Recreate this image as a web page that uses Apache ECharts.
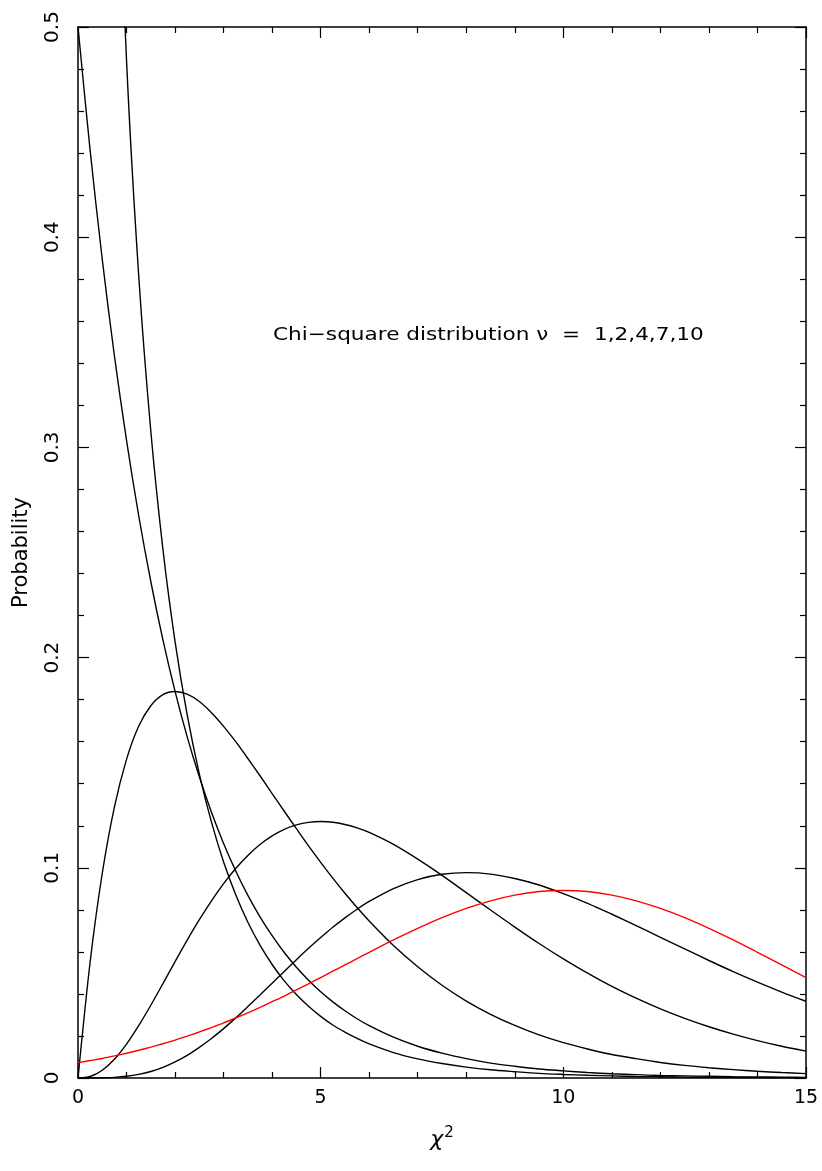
<!DOCTYPE html>
<html>
<head>
<meta charset="utf-8">
<title>Chi-square distribution</title>
<script src="https://cdn.jsdelivr.net/npm/echarts@6/dist/echarts.min.js"></script>
<style>
  html, body { margin: 0; padding: 0; background: #fff; }
  #chart { width: 822px; height: 1171px; }
</style>
</head>
<body>
<div id="chart"></div>
<script>
// x positions the curves were read at
var xs = [0, 0.25, 0.5, 0.75, 1, 1.25, 1.5, 1.75, 2, 2.25, 2.5, 2.75, 3, 3.25, 3.5, 3.75, 4, 4.25, 4.5, 4.75, 5, 5.25, 5.5, 5.75, 6,
  6.5, 7, 7.5, 8, 8.5, 9, 9.5, 10, 10.5, 11, 11.5, 12, 12.5, 13, 13.5, 14, 14.5, 15]

// black curves, nu = 1, 2, 4, 7, 10
var nu1 = [null, 1.4085, 0.8789, 0.6333, 0.4840, 0.3820, 0.3078, 0.2515, 0.2076, 0.1727, 0.1446, 0.1217, 0.1028, 0.0872, 0.0741, 0.0632, 0.0540, 0.0462, 0.0397, 0.0341, 0.0293, 0.0252, 0.0218, 0.0188, 0.0162,
  0.0121, 0.0091, 0.0069, 0.0052, 0.0039, 0.0030, 0.0022, 0.0017, 0.0013, 0.0010, 0.0007, 0.0006, 0.0004, 0.0003, 0.0003, 0.0002, 0.0001, 0.0001]
var nu2 = [0.5, 0.4413, 0.3894, 0.3436, 0.3033, 0.2676, 0.2362, 0.2084, 0.1839, 0.1623, 0.1433, 0.1264, 0.1116, 0.0985, 0.0869, 0.0767, 0.0677, 0.0597, 0.0527, 0.0465, 0.0410, 0.0362, 0.0320, 0.0282, 0.0249,
  0.0194, 0.0151, 0.0118, 0.0092, 0.0071, 0.0056, 0.0043, 0.0034, 0.0026, 0.0020, 0.0016, 0.0012, 0.0010, 0.0008, 0.0006, 0.0005, 0.0004, 0.0003]
var nu4 = [0, 0.0552, 0.0974, 0.1289, 0.1516, 0.1673, 0.1771, 0.1824, 0.1839, 0.1826, 0.1791, 0.1738, 0.1673, 0.1600, 0.1520, 0.1438, 0.1353, 0.1269, 0.1186, 0.1104, 0.1026, 0.0951, 0.0879, 0.0811, 0.0747,
  0.0630, 0.0529, 0.0441, 0.0366, 0.0303, 0.0250, 0.0205, 0.0168, 0.0138, 0.0112, 0.0092, 0.0074, 0.0060, 0.0049, 0.0040, 0.0032, 0.0026, 0.0021]
var nu7 = [0, 0.0007, 0.0037, 0.0089, 0.0161, 0.0249, 0.0346, 0.0449, 0.0554, 0.0656, 0.0753, 0.0843, 0.0925, 0.0997, 0.1059, 0.1111, 0.1152, 0.1183, 0.1204, 0.1216, 0.1220, 0.1217, 0.1206, 0.1190, 0.1168,
  0.1111, 0.1041, 0.0964, 0.0882, 0.0799, 0.0718, 0.0640, 0.0567, 0.0499, 0.0436, 0.0380, 0.0329, 0.0284, 0.0244, 0.0209, 0.0178, 0.0151, 0.0128]
var nu10 = [0, 0, 0.0001, 0.0003, 0.0008, 0.0017, 0.0031, 0.0051, 0.0077, 0.0108, 0.0146, 0.0188, 0.0235, 0.0286, 0.0340, 0.0395, 0.0451, 0.0507, 0.0563, 0.0617, 0.0668, 0.0717, 0.0762, 0.0803, 0.0840,
  0.0901, 0.0944, 0.0969, 0.0977, 0.0970, 0.0949, 0.0918, 0.0877, 0.0831, 0.0779, 0.0725, 0.0669, 0.0614, 0.0559, 0.0506, 0.0456, 0.0409, 0.0365]
// red curve
var gauss10 = [0.0073, 0.0083, 0.0093, 0.0105, 0.0118, 0.0132, 0.0147, 0.0163, 0.0180, 0.0199, 0.0219, 0.0240, 0.0262, 0.0286, 0.0310, 0.0336, 0.0363, 0.0390, 0.0419, 0.0448, 0.0478, 0.0508, 0.0538, 0.0568, 0.0598,
  0.0657, 0.0712, 0.0763, 0.0807, 0.0843, 0.0870, 0.0887, 0.0892, 0.0887, 0.0870, 0.0843, 0.0807, 0.0763, 0.0712, 0.0657, 0.0598, 0.0538, 0.0478]

var font = 'DejaVu Sans'

function pairs (ys) {
  var out = []
  for (var i = 0; i < xs.length; i++) {
    out.push([xs[i], ys[i]])
  }
  return out
}

function curve (ys, color) {
  return {
    type: 'line',
    data: pairs(ys),
    symbol: 'none',
    smooth: 0.3,
    clip: true,
    lineStyle: { color: color, width: 1.4 },
    z: 3
  }
}

// axis looks shared by all four sides
function frameAxis (pos, min, max, interval, extra) {
  var a = {
    type: 'value',
    position: pos,
    min: min,
    max: max,
    interval: interval,
    splitLine: { show: false },
    axisLine: { show: true, onZero: false, lineStyle: { color: '#000', width: 1.5 } },
    axisTick: { show: true, inside: true, length: 11, lineStyle: { color: '#000', width: 1.2 } },
    minorTick: { show: true, splitNumber: 5, length: 6, lineStyle: { color: '#000', width: 1.2 } },
    axisLabel: { show: false }
  }
  for (var k in extra) a[k] = extra[k]
  return a
}

var dom = document.getElementById('chart')
var myChart = echarts.init(dom, null, { renderer: 'canvas' })

var option = {
  animation: false,
  backgroundColor: '#fff',
  grid: { left: 78, right: 16, top: 27, bottom: 93, outerBoundsMode: 'none' },
  xAxis: [
    frameAxis('bottom', 0, 15, 5, {
      name: '{c|χ}{s|2}',
      nameLocation: 'middle',
      nameGap: 48,
      nameTextStyle: {
        rich: {
          c: { fontFamily: font, fontSize: 22, fontStyle: 'italic', color: '#000' },
          s: { fontFamily: font, fontSize: 15, color: '#000', verticalAlign: 'top', padding: [0, 0, 14, 1] }
        }
      },
      axisLabel: { show: true, margin: 11, fontFamily: font, fontSize: 19, color: '#000' }
    }),
    frameAxis('top', 0, 15, 5, {})
  ],
  yAxis: [
    frameAxis('left', 0, 0.5, 0.1, {
      name: 'Probability',
      nameLocation: 'middle',
      nameGap: 46,
      nameTextStyle: { fontFamily: font, fontSize: 21, color: '#000' },
      axisLabel: { show: true, rotate: 90, margin: 15, fontFamily: font, fontSize: 20, color: '#000' }
    }),
    frameAxis('right', 0, 0.5, 0.1, {})
  ],
  graphic: [{
    type: 'text',
    left: 273,
    top: 326,
    scaleX: 1.2,
    style: {
      text: 'Chi−square distribution ν  =  1,2,4,7,10',
      fontFamily: font,
      fontSize: 18,
      fill: '#000'
    }
  }],
  series: [
    curve(nu1, '#000'),
    curve(nu2, '#000'),
    curve(nu4, '#000'),
    curve(nu7, '#000'),
    curve(nu10, '#000'),
    curve(gauss10, '#ff0000')
  ]
}
myChart.setOption(option)
</script>
</body>
</html>
